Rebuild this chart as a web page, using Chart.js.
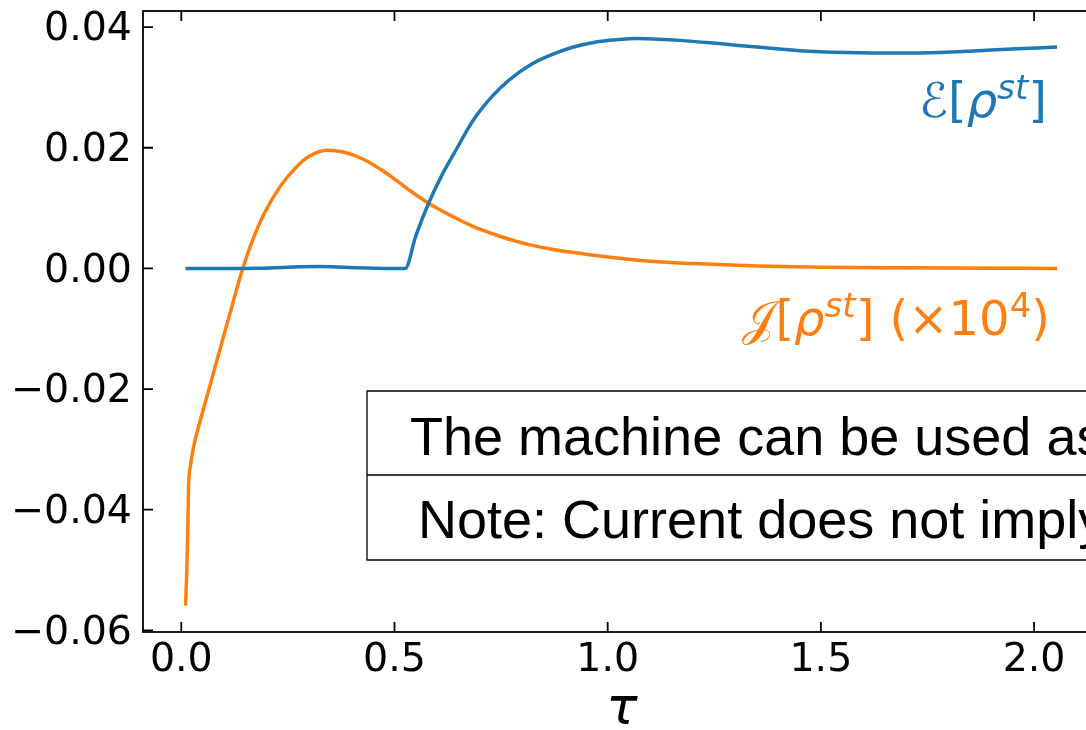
<!DOCTYPE html>
<html>
<head>
<meta charset="utf-8">
<script src="https://cdn.jsdelivr.net/npm/chart.js@4.4.1/dist/chart.umd.min.js"></script>
<style>
  html, body { margin: 0; padding: 0; background: #fff; overflow: hidden; }
  #wrap { width: 1104px; height: 730px; }
</style>
</head>
<body>
<div id="wrap"><canvas id="chart" width="1104" height="730"></canvas></div>
<script>
// --- Données ---
const xTicks = [0.0, 0.5, 1.0, 1.5, 2.0];
const yTicks = [-0.06, -0.04, -0.02, 0.00, 0.02, 0.04];

// E[rho^st] (bleu)
const tauE = [0.01, 0.10, 0.18, 0.25, 0.32, 0.38, 0.44, 0.48, 0.525, 0.55, 0.58, 0.61, 0.64, 0.685, 0.73, 0.77,
              0.82, 0.86, 0.92, 0.97, 1.02, 1.07, 1.12, 1.17, 1.24, 1.30, 1.365, 1.45, 1.56, 1.68, 1.78,
              1.87, 1.96, 2.054];
const valeursE = [0, 0, 0.00003, 0.0002, 0.0003, 0.0002, 0.00005, 0, 0, 0.0054, 0.0108, 0.0153, 0.0191, 0.0246, 0.0286, 0.0313,
                  0.0338, 0.0352, 0.0367, 0.0375, 0.0379, 0.0381, 0.0380, 0.0378, 0.0374, 0.0370, 0.0366, 0.0361, 0.0358, 0.0357, 0.0358,
                  0.0361, 0.0364, 0.0367];

// J[rho^st] x 10^4 (orange)
const tauJ = [0.01, 0.013, 0.015, 0.0171, 0.022, 0.0288, 0.0445, 0.065, 0.0837, 0.1226, 0.144, 0.17, 0.193, 0.232,
              0.271, 0.30, 0.342, 0.38, 0.427, 0.47, 0.506, 0.54, 0.58, 0.62, 0.662, 0.70, 0.74, 0.78, 0.818,
              0.875, 0.935, 1.0, 1.1, 1.2, 1.35, 1.5, 1.7, 1.9, 2.054];
const valeursJ = [-0.0559, -0.050, -0.044, -0.0362, -0.0325, -0.0296, -0.0252, -0.0200, -0.0152, -0.0053, 0, 0.0052, 0.0089, 0.0136,
                  0.0169, 0.0186, 0.0196, 0.0193, 0.0181, 0.0163, 0.0145, 0.0127, 0.0108, 0.0092, 0.0077, 0.0065, 0.0055, 0.0046, 0.0039,
                  0.0031, 0.0025, 0.0019, 0.0012, 0.0008, 0.0004, 0.0002, 0.0001, 0.00003, 0];

const tableLignes = ['The machine can be used as', 'Note: Current does not imply'];

const BLEU = '#1f77b4';
const ORANGE = '#ff7f0e';

function toPoints(xs, ys) {
    return xs.map((x, i) => ({ x: x, y: ys[i] }));
}

// texte avec exposants
function drawRich(ctx, parts, xRight, baseline, color) {
    let total = 0;
    parts.forEach(p => { ctx.font = p.font; p.w = ctx.measureText(p.t).width; total += p.w; });
    let x = xRight - total;
    ctx.fillStyle = color;
    ctx.textAlign = 'left';
    ctx.textBaseline = 'alphabetic';
    parts.forEach(p => { ctx.font = p.font; ctx.fillText(p.t, x, baseline - (p.rise || 0)); x += p.w; });
}

// Cadre, graduations intérieures, étiquettes et tableau
const decorPlugin = {
    id: 'decor',
    afterDatasetsDraw(chart) {
        const ctx = chart.ctx;
        const a = chart.chartArea;
        const xs = chart.scales.x, ys = chart.scales.y;
        ctx.save();
        ctx.strokeStyle = '#000';
        ctx.lineWidth = 1.8;
        ctx.strokeRect(a.left, a.top, a.right - a.left, a.bottom - a.top);
        ctx.beginPath();
        xTicks.forEach(v => {
            const px = xs.getPixelForValue(v);
            ctx.moveTo(px, a.bottom); ctx.lineTo(px, a.bottom - 10);
            ctx.moveTo(px, a.top); ctx.lineTo(px, a.top + 10);
        });
        yTicks.forEach(v => {
            const py = ys.getPixelForValue(v);
            ctx.moveTo(a.left, py); ctx.lineTo(a.left + 10, py);
            ctx.moveTo(a.right, py); ctx.lineTo(a.right - 10, py);
        });
        ctx.stroke();

        // étiquettes des courbes
        const sz = 48;
        const reg = sz + "px 'DejaVu Sans'";
        const ita = 'italic ' + sz + "px 'DejaVu Sans'";
        const supI = 'italic ' + Math.round(sz * 0.7) + "px 'DejaVu Sans'";
        const supR = Math.round(sz * 0.7) + "px 'DejaVu Sans'";
        drawRich(ctx, [
            { t: '\u2130', font: reg },
            { t: '[', font: reg },
            { t: '\u03c1', font: ita },
            { t: 'st', font: supI, rise: 18 },
            { t: ']', font: reg }
        ], 1047, 117, BLEU);
        drawRich(ctx, [
            { t: '\ud835\udca5', font: reg },
            { t: '[', font: reg },
            { t: '\u03c1', font: ita },
            { t: 'st', font: supI, rise: 18 },
            { t: '] (\u00d710', font: reg },
            { t: '4', font: supR, rise: 18 },
            { t: ')', font: reg }
        ], 1050, 335, ORANGE);

        // tableau
        ctx.lineWidth = 1.3;
        ctx.beginPath();
        ctx.moveTo(1200, 391); ctx.lineTo(367, 391); ctx.lineTo(367, 560); ctx.lineTo(1200, 560);
        ctx.moveTo(367, 475); ctx.lineTo(1200, 475);
        ctx.stroke();
        ctx.fillStyle = '#000';
        ctx.font = "54px 'Liberation Sans'";
        ctx.fillText(tableLignes[0], 410, 455);
        ctx.fillText(tableLignes[1], 418, 538);
        ctx.restore();
    }
};

const fmtY = v => (v < 0 ? '\u2212' : '') + Math.abs(v).toFixed(2);

new Chart(document.getElementById('chart'), {
    type: 'line',
    data: {
        datasets: [
            { data: toPoints(tauE, valeursE), borderColor: BLEU, borderWidth: 3.5, pointRadius: 0, cubicInterpolationMode: 'monotone' },
            { data: toPoints(tauJ, valeursJ), borderColor: ORANGE, borderWidth: 3.5, pointRadius: 0, cubicInterpolationMode: 'monotone' }
        ]
    },
    options: {
        responsive: false,
        animation: false,
        layout: { padding: { top: 11, right: 3.4, left: 0, bottom: 0 } },
        plugins: { legend: { display: false }, tooltip: { enabled: false } },
        scales: {
            x: {
                type: 'linear',
                min: -0.0898,
                max: 2.156,
                afterBuildTicks: s => { s.ticks = xTicks.map(v => ({ value: v })); },
                afterFit: s => { s.height = 98; s.paddingLeft = 0; s.paddingRight = 0; },
                grid: { display: false, drawTicks: false },
                border: { display: false },
                ticks: {
                    autoSkip: false, maxRotation: 0, padding: 5, color: '#000',
                    font: { family: 'DejaVu Sans', size: 39.5 },
                    callback: v => v.toFixed(1)
                },
                title: {
                    display: true, text: '\u03c4', color: '#000',
                    font: { family: 'DejaVu Sans', size: 52, style: 'italic' },
                    padding: { top: 0, bottom: -11.6 }
                }
            },
            y: {
                type: 'linear',
                min: -0.06027,
                max: 0.04267,
                afterBuildTicks: s => { s.ticks = yTicks.map(v => ({ value: v })); },
                afterFit: s => { s.width = 143; s.paddingTop = 0; s.paddingBottom = 0; },
                grid: { display: false, drawTicks: false },
                border: { display: false },
                ticks: {
                    autoSkip: false, padding: 11, labelOffset: 3, color: '#000',
                    font: { family: 'DejaVu Sans', size: 39.5 },
                    callback: fmtY
                }
            }
        }
    },
    plugins: [decorPlugin]
});
</script>
</body>
</html>
